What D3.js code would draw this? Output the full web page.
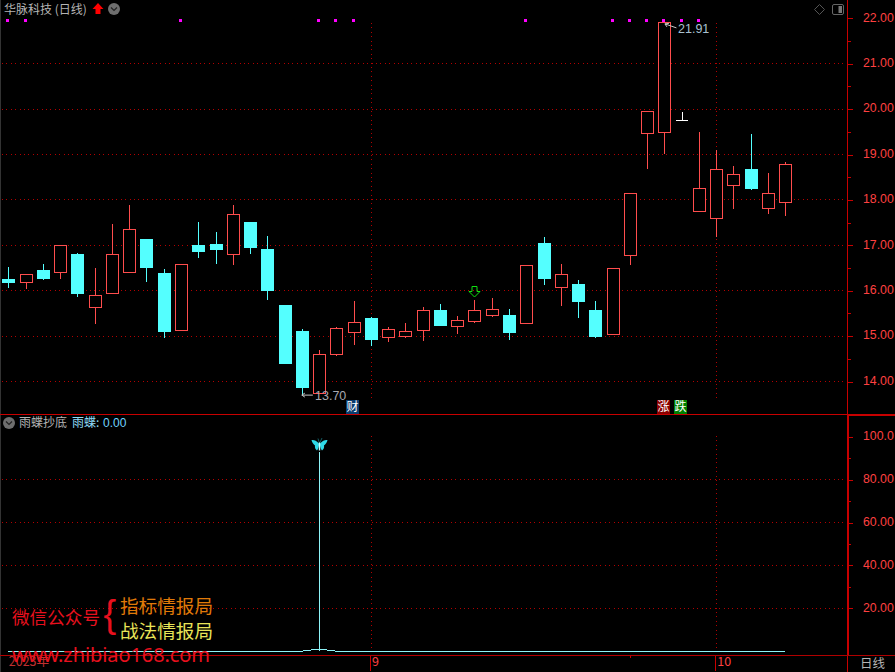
<!DOCTYPE html>
<html><head><meta charset="utf-8">
<script src="https://cdn.jsdelivr.net/npm/d3@7/dist/d3.min.js"></script>
<style>html,body{margin:0;padding:0;background:#000;overflow:hidden}svg{display:block}</style>
</head><body><svg id="c" width="895" height="672"></svg>
<script>
// Candle data (index 39 is the white T-shaped bar)
const opens  = [16.26,16.18,16.46,16.40,16.81,15.63,15.94,16.40,17.14,16.39,15.12,17.01,17.03,16.80,17.52,16.92,15.69,15.11,13.74,14.59,15.08,15.40,14.97,14.99,15.12,15.58,15.21,15.32,15.45,15.47,15.28,17.05,16.07,16.15,15.58,15.03,16.78,19.47,19.49,19.74,17.75,17.59,18.32,18.67,17.81,17.95];
const closes = [16.17,16.36,16.26,17.00,15.93,15.90,16.80,17.35,16.50,15.09,16.58,16.85,16.90,17.68,16.94,16.00,14.39,13.86,14.60,15.17,15.31,14.92,15.15,15.11,15.57,15.22,15.35,15.57,15.59,15.07,16.56,16.26,16.36,15.75,14.98,16.48,18.13,19.94,21.91,19.74,18.26,18.68,18.57,18.25,18.13,18.79];
const highs  = [16.52,16.36,16.59,17.00,16.83,16.50,17.47,17.89,17.14,16.47,16.58,17.52,17.30,17.89,17.52,17.21,15.69,15.16,14.70,15.20,15.78,15.42,15.20,15.29,15.64,15.71,15.44,15.80,15.84,15.60,16.56,17.19,16.59,16.24,15.78,16.48,18.13,19.94,21.91,19.94,19.50,19.10,18.75,19.46,18.60,18.84];
const lows   = [16.06,16.04,16.24,16.26,15.86,15.27,15.94,16.40,16.19,14.96,15.12,16.72,16.59,16.57,16.81,15.80,14.39,13.70,13.74,14.57,14.81,14.78,14.87,14.96,14.89,15.22,15.05,15.29,15.42,14.92,15.28,16.13,15.67,15.40,14.96,15.03,16.57,18.67,19.02,19.74,17.75,17.19,17.81,18.22,17.70,17.65];
const signalDots = [0,1,10,18,19,20,30,35,36,37,38,39,40];
// Lower pane: small line series and one stick
const yudieLine = [0,0,0,0,0,0,0,0,0,0,0,0,0,0,0,0,0,0,1,0,0,0,0,0,0,0,0,0,0,0,0,0,0,0,0,0,0,0,0,0,0,0,0,0,0,0];
const stickIndex = 18, stickValue = 93;
const priceTicks = [14,15,16,17,18,19,20,21,22];
const priceMinor = [14.5,15.5,16.5,17.5,18.5,19.5,20.5,21.5];
const indTicks = [20,40,60,80,100];
const indMinor = [30,50,70,90];
const indLabels = {20:"20.00",40:"40.00",60:"60.00",80:"80.00",100:"100.0"};
const dateTicks = [0,21,41];
const dateLabels = {0:"2023年",21:"9",41:"10"};
const dateMinor = [36];

const RED="#ff4d4d", CYAN="#54ffff", AX="#c80000", GRID="#b40000", TXT="#ff4040", GRAY="#b4b4b4";
const CJK='"Noto Sans CJK SC","Liberation Sans",sans-serif', NUM='"Liberation Sans",sans-serif';
const svg=d3.select("#c").attr("shape-rendering","crispEdges");
svg.append("rect").attr("width",895).attr("height",672).attr("fill","#000");

const x=d3.scaleLinear().domain([0,45]).range([8.3,785.3]);
const y=d3.scaleLinear().domain([14,22]).range([381.5,18.3]);
const yi=d3.scaleLinear().domain([0,100]).range([651.2,436.7]);
const px=v=>Math.floor(v)+.5, pr=v=>Math.floor(v), cx=v=>Math.round(v);

// frame
svg.append("rect").attr("x",0).attr("y",0).attr("width",1).attr("height",672).attr("fill","#333");

// grid
const dotted=(g,x1,y1,x2,y2)=>g.append("line").attr("x1",x1).attr("y1",y1).attr("x2",x2).attr("y2",y2)
  .attr("stroke",GRID).attr("stroke-dasharray","1 3.4");
const grid=svg.append("g");
priceTicks.filter(t=>t<22).forEach(t=>dotted(grid,2,px(y(t)),846,px(y(t))));
indTicks.filter(t=>t<100).forEach(t=>dotted(grid,2,px(yi(t)),846,px(yi(t))));
dateTicks.slice(1).forEach(d=>{
  const X=cx(x(d))+.5;
  dotted(grid,X,23,X,399); dotted(grid,X,436,X,652);
});

// signal dots
svg.append("g").selectAll("rect").data(signalDots).join("rect")
 .attr("x",d=>cx(x(d))-2).attr("y",19).attr("width",3).attr("height",3).attr("fill","#ff00ff");

// candles
const idx=d3.range(opens.length);
const cg=svg.append("g");
idx.forEach(i=>{
  const up=closes[i]>=opens[i], X=cx(x(i)), top=Math.max(opens[i],closes[i]), bot=Math.min(opens[i],closes[i]);
  if(i===39){ // white T bar
    cg.append("line").attr("x1",X-6).attr("x2",X+6).attr("y1",px(y(closes[i]))).attr("y2",px(y(closes[i]))).attr("stroke","#fff");
    cg.append("line").attr("x1",X+.5).attr("x2",X+.5).attr("y1",y(highs[i])).attr("y2",y(closes[i])).attr("stroke","#fff");
    return;
  }
  const col=up?RED:CYAN;
  if(highs[i]>top) cg.append("line").attr("x1",X+.5).attr("x2",X+.5).attr("y1",cx(y(highs[i]))).attr("y2",cx(y(top))).attr("stroke",col);
  if(lows[i]<bot)  cg.append("line").attr("x1",X+.5).attr("x2",X+.5).attr("y1",cx(y(bot))).attr("y2",cx(y(lows[i]))).attr("stroke",col);
  if(up) cg.append("rect").attr("x",X-6+.5).attr("width",12).attr("y",px(y(top))).attr("height",Math.max(1,pr(y(bot))-pr(y(top)))).attr("fill","#000").attr("stroke",RED);
  else cg.append("rect").attr("x",X-6).attr("width",13).attr("y",cx(y(top))).attr("height",Math.max(1,cx(y(bot))-cx(y(top)))).attr("fill",CYAN);
});

// lower pane
const lineGen=d3.line().x((d,i)=>x(i)).y(d=>yi(d));
svg.append("path").datum(yudieLine).attr("d",lineGen).attr("fill","none").attr("stroke","#8ff4f8").attr("stroke-width",1);
svg.append("line").attr("x1",px(x(stickIndex))).attr("x2",px(x(stickIndex))).attr("y1",yi(stickValue)).attr("y2",yi(0)).attr("stroke","#8ff4f8");

// butterfly
const bf=svg.append("g").attr("transform",`translate(${px(x(stickIndex))},444.5)`).attr("shape-rendering","auto");
const wing="M-.5,-1 C-3,-4 -6,-5 -8,-4.5 C-7.5,-2 -6,0 -4.5,1 C-5,3 -4,5 -2.5,6 C-1.5,5 -.8,3 -.5,1 Z";
bf.append("path").attr("d",wing).attr("fill","#2fd9e6");
bf.append("path").attr("d",wing).attr("fill","#2fd9e6").attr("transform","scale(-1,1)");
bf.append("path").attr("d","M0,-1 L-1.5,-6 M0,-1 L2.5,-6.5").attr("stroke","#1a7f8a").attr("stroke-width",.7).attr("fill","none");
bf.append("rect").attr("x",-.7).attr("y",-2).attr("width",1.4).attr("height",8).attr("fill","#c8ffff");

// axes (right)
function styleAxis(g){
  g.select(".domain").remove();
  g.selectAll("line").attr("stroke",AX);
  g.selectAll("text").attr("fill",TXT).attr("font-family",NUM).attr("font-size",12.3).attr("text-anchor","start").attr("dy","0.22em").attr("shape-rendering","auto");
}
const axX=848;
svg.append("g").attr("transform",`translate(${axX},0)`)
 .call(d3.axisRight(y).tickValues(priceTicks).tickSize(5).tickPadding(10).tickFormat(d3.format(".2f"))).call(styleAxis);
svg.append("g").attr("transform",`translate(${axX},0)`)
 .call(d3.axisRight(y).tickValues(priceMinor).tickSize(3).tickFormat("")).call(styleAxis);
svg.append("g").attr("transform",`translate(${axX},0)`)
 .call(d3.axisRight(yi).tickValues(indTicks).tickSize(5).tickPadding(10).tickFormat(d=>indLabels[d])).call(styleAxis);
svg.append("g").attr("transform",`translate(${axX},0)`)
 .call(d3.axisRight(yi).tickValues(indMinor).tickSize(3).tickFormat("")).call(styleAxis);

// bottom axis
const xAxis=svg.append("g").attr("transform","translate(0,655)")
 .call(d3.axisBottom(x).tickValues(dateTicks).tickSize(16).tickPadding(-14).tickFormat(d=>dateLabels[d]));
xAxis.select(".domain").remove();
xAxis.selectAll("line").attr("stroke",AX).attr("transform","translate(-1,0)").attr("opacity",(d)=>d===0?0:1);
xAxis.selectAll("text").attr("fill",TXT).attr("font-family",CJK).attr("font-size",12.5).attr("text-anchor","start")
  .attr("dx",d=>d===0?0:.5).attr("opacity",d=>d===0?.75:1);
svg.append("g").attr("transform","translate(0,655)")
 .call(d3.axisBottom(x).tickValues(dateMinor).tickSize(3).tickFormat(""))
 .call(g=>{g.select(".domain").remove();g.selectAll("line").attr("stroke",AX)});

// frame lines
svg.append("rect").attr("x",847).attr("y",0).attr("width",1).attr("height",414).attr("fill",AX);
svg.append("rect").attr("x",847).attr("y",414).attr("width",2).attr("height",241).attr("fill",AX);
svg.append("rect").attr("x",847).attr("y",655).attr("width",1).attr("height",17).attr("fill",AX);
svg.append("rect").attr("x",0).attr("y",414).attr("width",895).attr("height",1).attr("fill",AX);
svg.append("rect").attr("x",849).attr("y",415).attr("width",46).attr("height",1).attr("fill",AX);
svg.append("rect").attr("x",0).attr("y",655).attr("width",895).attr("height",1).attr("fill","#b00000");

// text helper
const txt=(s,X,Y,fill,size,fam,extra)=>{const t=svg.append("text").attr("x",X).attr("y",Y).attr("fill",fill).attr("font-size",size).attr("font-family",fam||CJK).attr("shape-rendering","auto").text(s);if(extra)extra(t);return t;};

txt("华脉科技 (日线)",4,13.5,GRAY,12);
txt("日线",860,668,GRAY,12.5);
txt("雨蝶抄底",19,427,GRAY,12);
txt("雨蝶:",72,427,"#90dcf8",12);
txt("0.00",103,427,"#70d4ff",12,NUM);

// header icons
const ic=svg.append("g").attr("shape-rendering","auto");
ic.append("path").attr("d","M98,3 L103.5,9 L100.5,9 L100.5,14 L95.5,14 L95.5,9 L92.5,9 Z").attr("fill","#ff0000");
const chev=(cx0,cy)=>{
  ic.append("circle").attr("cx",cx0).attr("cy",cy).attr("r",6).attr("fill","#6e6e6e");
  ic.append("path").attr("d",`M${cx0-3},${cy-1.5} L${cx0},${cy+1.5} L${cx0+3},${cy-1.5}`).attr("fill","none").attr("stroke","#222").attr("stroke-width",1.2);
};
chev(114,9); chev(9,423);
ic.append("path").attr("d","M819.5,4.5 L824.5,9.5 L819.5,14.5 L814.5,9.5 Z").attr("fill","none").attr("stroke","#555");
ic.append("rect").attr("x",832.5).attr("y",4.5).attr("width",11).attr("height",10).attr("rx",1.5).attr("fill","none").attr("stroke","#666");
ic.append("rect").attr("x",838.5).attr("y",6).attr("width",3.5).attr("height",7).attr("fill","#777");

// hi/lo annotations
ic.append("path").attr("d",`M${x(17)},${y(13.70)} H${x(17)+11} M${x(17)},${y(13.70)} l3,-2 M${x(17)},${y(13.70)} l3,2`).attr("stroke","#c8c8c8").attr("fill","none");
txt("13.70",315,400,"#a8a8b0",12.5,NUM);
ic.append("path").attr("d",`M${x(38)+.5},${y(21.91)+1.5} L${x(38)+12},${y(21.91)+5.5} M${x(38)+.5},${y(21.91)+1.5} l4,-.5 M${x(38)+.5},${y(21.91)+1.5} l2,3`).attr("stroke","#c8c8c8").attr("fill","none");
txt("21.91",678,33,"#a8c0d0",12.5,NUM);

// badges
const badge=(s,i,bg)=>{
  svg.append("rect").attr("x",i).attr("y",400).attr("width",13).attr("height",13.5).attr("fill",bg);
  txt(s,i+.5,411,"#fff",12);
};
badge("财",346,"#0a3c6e"); badge("涨",657,"#8a0000"); badge("跌",674,"#008000");

// green down arrow
ic.append("path").attr("d",`M${x(27)-2.5},286.5 h5 v5 h3 l-5.5,5.5 l-5.5,-5.5 h3 Z`).attr("fill","none").attr("stroke","#10e010");

// watermark
txt("微信公众号",12,624,"#e8101e",17.6);
txt("{",103.5,627,"#e8101e",38,NUM);
txt("指标情报局",120,613,"#e07a08",18.6);
txt("战法情报局",120,638,"#e8e458",18.6);
txt("www.zhibiao168.com",12,662,"#e8101e",20,'"Noto Sans",sans-serif',t=>t.attr("textLength",198).attr("lengthAdjust","spacing"));
</script></body></html>
